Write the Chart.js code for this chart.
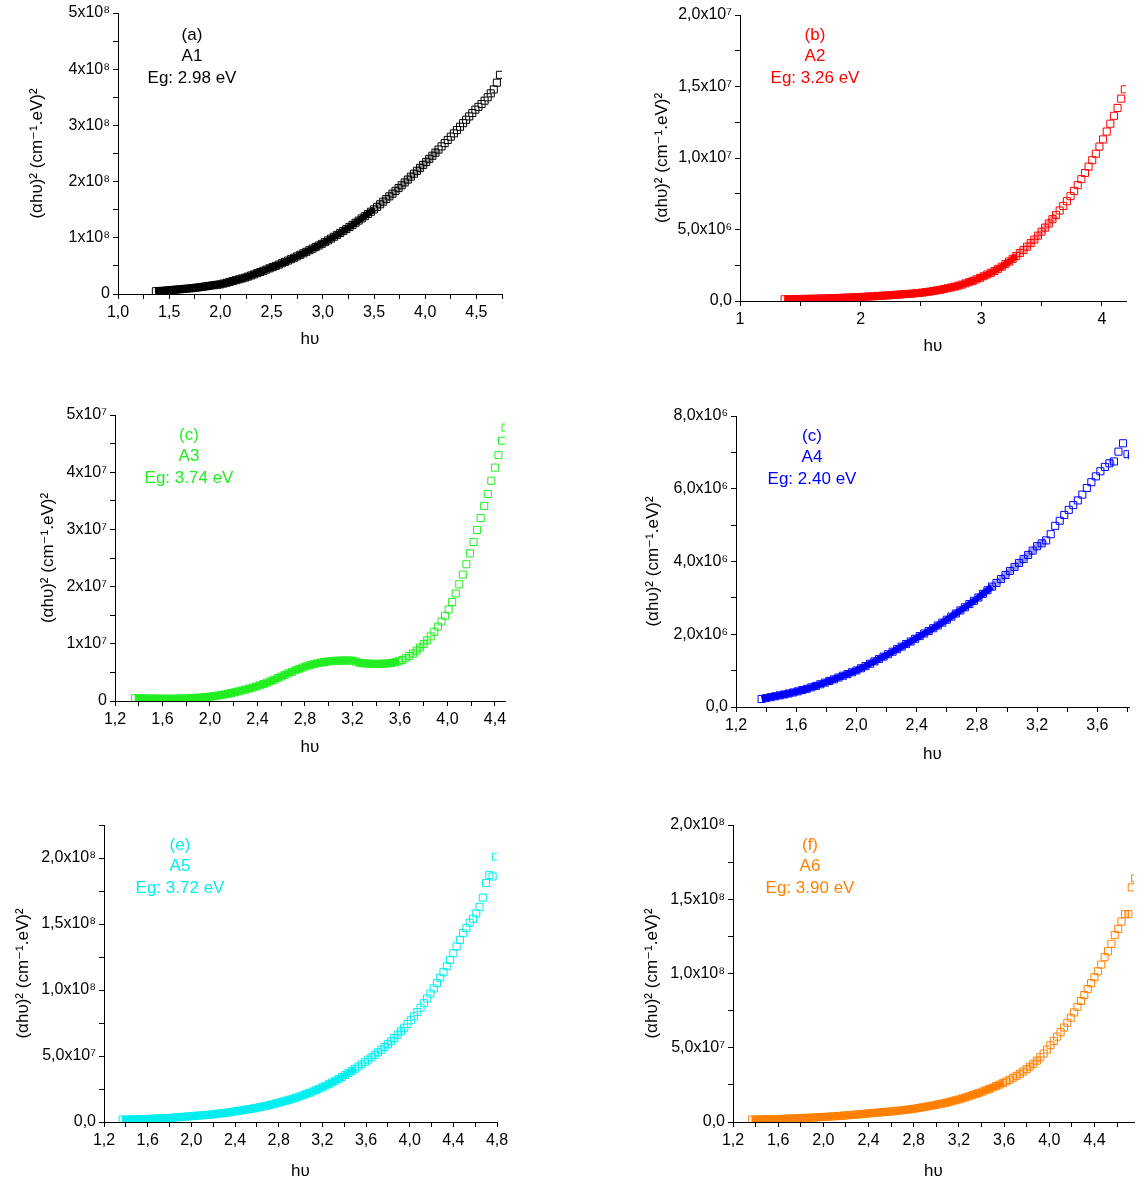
<!DOCTYPE html>
<html>
<head>
<meta charset="utf-8">
<title>(αhυ)² vs hυ – A1..A6</title>
<script src="https://cdn.jsdelivr.net/npm/chart.js@4.4.1/dist/chart.umd.min.js"></script>
<style>
  html, body { margin: 0; padding: 0; background: #fff; }
  #page { position: relative; width: 1147px; height: 1185px; overflow: hidden; }
  #page canvas { position: absolute; }
</style>
</head>
<body>
<div id="page"></div>
<script>
/* =================================================
   DATA  (photon energy hv in eV, (αhv)^2)
================================================= */
const hv = [
  1.37,1.40,1.43,1.46,1.49,1.52,1.55,1.58,1.61,1.64,
  1.67,1.70,1.73,1.76,1.79,1.82,1.85,1.88,1.91,1.94,
  1.97,2.00,2.03,2.06,2.09,2.12,2.15,2.18,2.21,2.24,
  2.27,2.30,2.33,2.36,2.39,2.42,2.45,2.48,2.51,2.54,
  2.57,2.60,2.63,2.66,2.69,2.72,2.75,2.78,2.81,2.84,
  2.87,2.90,2.93,2.96,2.99,3.02,3.05,3.08,3.11,3.14,
  3.17,3.20,3.23,3.26,3.29,3.32,3.35,3.38,3.41,3.44,
  3.47,3.50,3.53,3.56,3.59,3.62,3.65,3.68,3.71,3.74,
  3.77,3.80,3.83,3.86,3.89,3.92,3.95,3.98,4.01,4.04,
  4.07,4.10,4.13,4.16,4.19,4.22,4.25,4.28,4.31,4.34,
  4.37,4.40,4.43,4.46,4.49,4.52,4.55,4.58,4.61,4.64,
  4.67,4.70,4.73,4.76,4.79
];

// A1, units of 1e8
const a1 = [
  0.050,0.053,0.056,0.060,0.065,0.070,0.075,0.080,0.085,0.090,
  0.095,0.100,0.106,0.112,0.119,0.126,0.134,0.142,0.150,0.158,
  0.165,0.172,0.186,0.200,0.215,0.230,0.245,0.260,0.276,0.292,
  0.310,0.330,0.350,0.371,0.392,0.413,0.435,0.457,0.478,0.500,
  0.523,0.547,0.571,0.595,0.620,0.645,0.670,0.697,0.724,0.751,
  0.779,0.807,0.835,0.863,0.892,0.922,0.954,0.986,1.019,1.052,
  1.086,1.120,1.155,1.192,1.230,1.268,1.306,1.345,1.384,1.424,
  1.464,1.505,1.550,1.596,1.643,1.690,1.738,1.786,1.835,1.884,
  1.934,1.985,2.036,2.088,2.140,2.192,2.245,2.298,2.350,2.405,
  2.460,2.515,2.570,2.627,2.684,2.741,2.800,2.858,2.917,2.976,
  3.040,3.100,3.160,3.220,3.280,3.330,3.380,3.440,3.500,3.570,
  3.640,3.760,3.900
];

// A2, units of 1e6
const a2 = [
  0.120,0.125,0.130,0.135,0.140,0.145,0.150,0.155,0.160,0.166,
  0.172,0.180,0.188,0.196,0.205,0.214,0.224,0.234,0.245,0.256,
  0.268,0.280,0.293,0.307,0.321,0.336,0.351,0.367,0.384,0.401,
  0.419,0.438,0.458,0.478,0.493,0.510,0.535,0.560,0.585,0.620,
  0.655,0.700,0.740,0.785,0.835,0.890,0.945,1.005,1.070,1.145,
  1.230,1.320,1.410,1.510,1.620,1.730,1.850,1.970,2.100,2.250,
  2.400,2.580,2.760,2.950,3.140,3.350,3.570,3.800,4.050,4.300,
  4.570,4.850,5.130,5.420,5.720,6.020,6.330,6.650,6.980,7.330,
  7.700,8.100,8.520,8.950,9.400,9.850,10.30,10.80,11.30,11.85,
  12.40,12.95,13.50,14.15,14.80
];

// A3, units of 1e7
const a3 = [
  0.050,0.048,0.046,0.045,0.044,0.043,0.042,0.041,0.040,0.040,
  0.040,0.041,0.042,0.043,0.045,0.047,0.050,0.054,0.058,0.063,
  0.069,0.076,0.084,0.093,0.103,0.114,0.126,0.139,0.153,0.168,
  0.184,0.200,0.217,0.235,0.254,0.274,0.296,0.320,0.345,0.372,
  0.400,0.428,0.456,0.484,0.511,0.537,0.562,0.585,0.606,0.625,
  0.642,0.657,0.670,0.681,0.690,0.697,0.702,0.705,0.707,0.708,
  0.708,0.706,0.690,0.668,0.660,0.656,0.652,0.650,0.649,0.650,
  0.653,0.658,0.666,0.678,0.695,0.718,0.748,0.785,0.830,0.880,
  0.935,0.995,1.060,1.130,1.210,1.300,1.390,1.490,1.600,1.730,
  1.880,2.040,2.210,2.390,2.580,2.780,2.990,3.200,3.410,3.620,
  3.850,4.080,4.300,4.550,4.780
];

// A4, units of 1e6
const a4 = [
  0.220,0.245,0.270,0.295,0.320,0.345,0.372,0.400,0.430,0.465,
  0.500,0.540,0.580,0.625,0.670,0.715,0.760,0.810,0.860,0.905,
  0.955,1.005,1.065,1.125,1.190,1.255,1.320,1.385,1.450,1.520,
  1.590,1.660,1.730,1.800,1.875,1.950,2.020,2.090,2.165,2.240,
  2.320,2.400,2.485,2.570,2.655,2.740,2.830,2.920,3.010,3.110,
  3.210,3.310,3.410,3.520,3.630,3.740,3.850,3.960,4.070,4.180,
  4.300,4.420,4.500,4.580,4.750,4.980,5.120,5.280,5.420,5.550,
  5.680,5.840,6.020,6.180,6.340,6.480,6.600,6.700,6.750,7.020,
  7.250,6.950,6.920
];

// A5, units of 1e8
const a5 = [
  0.018,0.019,0.019,0.020,0.020,0.021,0.022,0.023,0.024,0.025,
  0.026,0.027,0.028,0.029,0.030,0.032,0.034,0.036,0.038,0.040,
  0.042,0.044,0.046,0.048,0.050,0.052,0.054,0.056,0.059,0.062,
  0.065,0.068,0.071,0.075,0.079,0.083,0.087,0.091,0.095,0.099,
  0.103,0.108,0.113,0.118,0.123,0.129,0.135,0.141,0.148,0.155,
  0.162,0.169,0.177,0.185,0.193,0.202,0.211,0.221,0.231,0.241,
  0.252,0.263,0.275,0.287,0.300,0.313,0.327,0.341,0.356,0.371,
  0.387,0.403,0.420,0.437,0.454,0.472,0.490,0.509,0.528,0.548,
  0.568,0.589,0.612,0.636,0.661,0.687,0.714,0.742,0.771,0.801,
  0.833,0.866,0.900,0.936,0.973,1.012,1.052,1.093,1.135,1.180,
  1.228,1.278,1.330,1.380,1.430,1.470,1.510,1.540,1.580,1.630,
  1.700,1.810,1.870,1.860,2.010
];

// A6, units of 1e8
const a6 = [
  0.016,0.017,0.017,0.018,0.018,0.019,0.019,0.020,0.020,0.021,
  0.022,0.023,0.024,0.025,0.026,0.027,0.028,0.029,0.030,0.031,
  0.033,0.034,0.035,0.037,0.038,0.040,0.041,0.043,0.045,0.047,
  0.049,0.051,0.053,0.055,0.057,0.059,0.061,0.063,0.065,0.067,
  0.069,0.071,0.073,0.076,0.078,0.081,0.084,0.087,0.090,0.094,
  0.098,0.102,0.106,0.110,0.114,0.119,0.124,0.129,0.134,0.140,
  0.146,0.152,0.159,0.166,0.173,0.181,0.189,0.197,0.205,0.214,
  0.223,0.232,0.242,0.252,0.262,0.273,0.285,0.298,0.311,0.325,
  0.340,0.356,0.373,0.392,0.413,0.436,0.461,0.488,0.517,0.546,
  0.575,0.605,0.636,0.668,0.702,0.738,0.776,0.815,0.855,0.895,
  0.935,0.975,1.015,1.060,1.110,1.150,1.200,1.260,1.300,1.350,
  1.400,1.400,1.580,1.640
];

const sampleNames = ['A1', 'A2', 'A3', 'A4', 'A5', 'A6'];
const panelTags = ['(a)', '(b)', '(c)', '(c)', '(e)', '(f)'];
const bandGaps = ['2.98', '3.26', '3.74', '2.40', '3.72', '3.90'];

/* =================================================
   HELPERS
================================================= */
const FONT = "'Liberation Sans', Arial, 'DejaVu Sans', sans-serif";
const SUP = { '0':'⁰','1':'¹','2':'²','3':'³','4':'⁴','5':'⁵','6':'⁶','7':'⁷','8':'⁸','9':'⁹','-':'⁻' };
const sup = n => String(n).split('').map(c => SUP[c]).join('');

function sciLabel(v, dec) {
  if (Math.abs(v) < 1) return dec ? '0,0' : '0';
  const e = Math.floor(Math.log10(v) + 1e-9);
  const m = v / Math.pow(10, e);
  const ms = dec ? m.toFixed(1).replace('.', ',') : String(Math.round(m));
  return ms + 'x10' + sup(e);
}

function rgba(hex, a) {
  const n = parseInt(hex.slice(1), 16);
  return `rgba(${n >> 16},${(n >> 8) & 255},${n & 255},${a})`;
}

// the measured spectra were sampled every 1 nm (dE = E^2/1240), so the open
// squares overlap into a solid band where that spacing is about a pixel.
function overlapGap(ctx) {
  const i = ctx.p0DataIndex;
  const e = hv[i];
  const step = hv[i + 1] - e;
  const d = Math.hypot(ctx.p1.x - ctx.p0.x, ctx.p1.y - ctx.p0.y);
  return (e * e / 1240) * d / step;
}

const notesPlugin = {
  id: 'notes',
  afterDraw(chart, args, opts) {
    const { ctx, chartArea } = chart;
    ctx.save();
    ctx.font = '17px ' + FONT;
    ctx.fillStyle = opts.color;
    ctx.textAlign = 'center';
    ctx.textBaseline = 'middle';
    opts.lines.forEach((t, i) => ctx.fillText(t, chartArea.left + opts.dx, chartArea.top + opts.dy + i * 21.5));
    ctx.restore();
  }
};

/* =================================================
   PANELS
================================================= */
// box: axis left/top/right/bottom, centre of y title (yt) and x title (xt), page pixels
const panels = [
  { ys: a1, unit: 1e8, color: '#000000',
    x: { min: 1.0, max: 4.75, step: 0.25, fmt: 1 }, y: { max: 5e8, step: 0.5e8, dec: false },
    box: { L: 118, T: 13, R: 502, B: 294, yt: 37, xt: 340 }, note: { dx: 74, dy: 22 } },
  { ys: a2, unit: 1e6, color: '#ff0000',
    x: { min: 1, max: 4.2, step: 0.5, fmt: 0 }, y: { max: 2e7, step: 2.5e6, dec: true },
    box: { L: 740, T: 15, R: 1126, B: 301, yt: 662, xt: 347 }, note: { dx: 75, dy: 20 } },
  { ys: a3, unit: 1e7, color: '#22ee22',
    x: { min: 1.2, max: 4.485, step: 0.2, fmt: 1 }, y: { max: 5e7, step: 0.5e7, dec: false },
    box: { L: 115, T: 415, R: 505, B: 701, yt: 48, xt: 748 }, note: { dx: 74, dy: 20 } },
  { ys: a4, unit: 1e6, color: '#0000ff',
    x: { min: 1.2, max: 3.81, step: 0.2, fmt: 1 }, y: { max: 8e6, step: 1e6, dec: true },
    box: { L: 736, T: 416, R: 1129, B: 707, yt: 653, xt: 755 }, note: { dx: 76, dy: 20 } },
  { ys: a5, unit: 1e8, color: '#00eeee',
    x: { min: 1.2, max: 4.8, step: 0.2, fmt: 1 }, y: { max: 2.25e8, step: 2.5e7, dec: true },
    box: { L: 104, T: 825, R: 497, B: 1122, yt: 23, xt: 1172 }, note: { dx: 76, dy: 20 } },
  { ys: a6, unit: 1e8, color: '#ff8000',
    x: { min: 1.2, max: 4.75, step: 0.2, fmt: 1 }, y: { max: 2e8, step: 2.5e7, dec: true },
    box: { L: 733, T: 825, R: 1134, B: 1122, yt: 652, xt: 1172 }, note: { dx: 77, dy: 20 } }
];

const PAD_TOP = 14, PAD_RIGHT = 16, TITLE_LH = 17 * 1.2;
const page = document.getElementById('page');
let charts = [];

panels.forEach((p, idx) => {
  const b = p.box;
  const left = Math.round(b.yt - TITLE_LH / 2);
  const top = b.T - PAD_TOP;
  const bottom = Math.round(b.xt + TITLE_LH / 2);
  const width = b.R + PAD_RIGHT - left;
  const height = bottom - top;
  const yW = b.L - left;
  const xH = bottom - b.B;

  const canvas = document.createElement('canvas');
  canvas.width = width; canvas.height = height;
  canvas.style.left = left + 'px'; canvas.style.top = top + 'px';
  canvas.style.width = width + 'px'; canvas.style.height = height + 'px';
  page.appendChild(canvas);

  const points = p.ys.map((v, i) => ({ x: hv[i], y: v * p.unit }));
  const tickFont = { family: FONT, size: 16 };
  const bandColor = c => {
    const g = overlapGap(c);
    if (g < 1.3) return p.color;
    if (g < 2.0) return rgba(p.color, 0.4);
    return 'rgba(0,0,0,0)';
  };

  charts.push(new Chart(canvas, {
    type: 'scatter',
    data: {
      datasets: [{
        label: sampleNames[idx],
        data: points,
        showLine: true,
        borderWidth: 6.5,
        borderColor: p.color,
        borderCapStyle: 'butt',
        segment: { borderColor: bandColor },
        pointStyle: 'rect',
        pointRadius: 5,
        pointHoverRadius: 5,
        pointBorderWidth: 1,
        pointBorderColor: p.color,
        pointBackgroundColor: 'rgba(0,0,0,0)',
        backgroundColor: 'rgba(0,0,0,0)'
      }]
    },
    options: {
      responsive: false, animation: false, devicePixelRatio: 1,
      layout: { padding: { top: PAD_TOP, right: PAD_RIGHT, left: 0, bottom: 0 } },
      plugins: {
        legend: { display: false }, tooltip: { enabled: false },
        notes: { color: p.color, dx: p.note.dx, dy: p.note.dy,
                 lines: [panelTags[idx], sampleNames[idx], 'Eg: ' + bandGaps[idx] + ' eV'] }
      },
      scales: {
        x: {
          type: 'linear', min: p.x.min, max: p.x.max,
          afterFit: s => { s.height = xH; },
          border: { color: '#000', width: 1 },
          grid: { drawOnChartArea: false, drawTicks: true, tickLength: 5, tickColor: '#000' },
          ticks: {
            stepSize: p.x.step, includeBounds: false, autoSkip: false, maxRotation: 0,
            color: '#000', font: tickFont, padding: 4,
            callback: v => {
              const k = Math.round((v - p.x.min) / p.x.step);
              if (k % 2) return '';
              return p.x.fmt ? v.toFixed(1).replace('.', ',') : String(Math.round(v));
            }
          },
          title: { display: true, text: 'hυ', color: '#000', font: { family: FONT, size: 17 }, padding: 0 }
        },
        y: {
          type: 'linear', min: 0, max: p.y.max,
          afterFit: s => { s.width = yW; },
          border: { color: '#000', width: 1 },
          grid: { drawOnChartArea: false, drawTicks: true, tickLength: 5, tickColor: '#000' },
          ticks: {
            stepSize: p.y.step, includeBounds: false, autoSkip: false,
            color: '#000', font: tickFont, padding: 3,
            callback: v => {
              const k = Math.round(v / p.y.step);
              if (k % 2) return '';
              return sciLabel(v, p.y.dec);
            }
          },
          title: { display: true, text: '(αhυ)² (cm⁻¹.eV)²', color: '#000', font: { family: FONT, size: 17 }, padding: 0 }
        }
      }
    },
    plugins: [notesPlugin]
  }));
});
</script>
</body>
</html>
